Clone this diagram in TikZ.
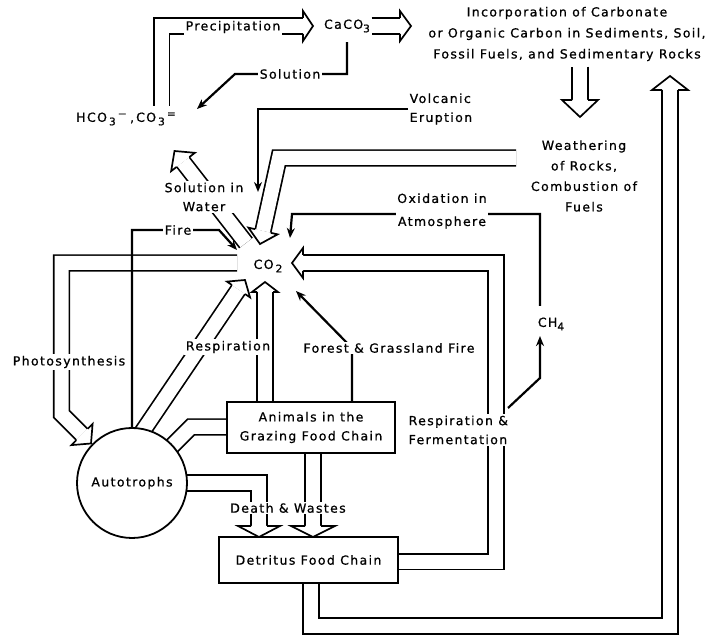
\documentclass[tikz,border=0pt]{standalone}
\usepackage{fontspec}
\setmainfont{DejaVu Sans}[LetterSpace=11, FakeBold=0.8]
\usetikzlibrary{arrows.meta,calc,backgrounds}
\newcommand{\labfont}{\fontsize{12.5}{19}\selectfont}
\newcommand{\lowidx}[1]{\raisebox{-3.5pt}{\fontsize{10.5}{10}\selectfont #1}}
\newcommand{\hiidx}[1]{\raisebox{4.5pt}{\fontsize{10.5}{10}\selectfont #1}}
\newcommand{\fathead}[3][15]{%
  \fill[white] ($(#2)!#1pt!90:(#3)$) -- (#3) -- ($(#2)!#1pt!-90:(#3)$) -- cycle;
  \draw[headline] ($(#2)!8pt!90:(#3)$) -- ($(#2)!#1pt!90:(#3)$) -- (#3)
    -- ($(#2)!#1pt!-90:(#3)$) -- ($(#2)!8pt!-90:(#3)$);}
\tikzset{
  lab/.style={font=\labfont, inner sep=1.5pt},
  cover/.style={lab, fill=white},
  box/.style={draw, line width=1.8pt, fill=white, font=\labfont, align=center, inner sep=0pt},
  pipe/.style={draw, line width=1.7pt, double=white, double distance=14pt, line join=miter},
  headline/.style={line width=1.7pt, line join=miter},
  wire/.style={line width=2.2pt, ->}
}

\begin{document}
\begin{tikzpicture}[x=1pt, y=-1pt, >={Stealth[length=10pt,width=8pt]}]
  \useasboundingbox (0,0) rectangle (713,636);

  \node[lab] (hco) at (126,119) {HCO\,\lowidx{3}\,\hiidx{−}\;,\,CO\,\lowidx{3}\,\hiidx{=}};
  \node[cover] (prec) at (233,27) {Precipitation};
  \node[lab] (caco) at (347,26) {CaCO\lowidx{3}};
  \node[lab, align=center] (incorp) at (567,34) {Incorporation of Carbonate\\[2pt]or Organic Carbon in Sediments, Soil,\\[2pt]Fossil Fuels, and Sedimentary Rocks};
  \node[cover] (sol) at (290,74) {Solution};
  \node[lab, align=left, anchor=west] (volc) at (408,109) {Volcanic\\Eruption};
  \node[lab, align=center] (weath) at (584,176) {Weathering\\[1.5pt]of Rocks,\\[1.5pt]Combustion of\\[1.5pt]Fuels};
  \node[cover, align=center] (solw) at (204,197) {Solution in\\Water};
  \node[cover, align=center] (oxid) at (442,211) {Oxidation in\\[4pt]Atmosphere};
  \node[cover] (fire) at (178,230) {Fire};
  \node[lab] (co2) at (268,266) {CO\,\lowidx{2}};
  \node[lab] (ch4) at (551,324) {CH\lowidx{4}};
  \node[cover] (resp) at (228,347) {Respiration};
  \node[cover] (ffire) at (389,348) {Forest \& Grassland Fire};
  \node[cover] (photo) at (69,362) {Photosynthesis};
  \node[cover, align=left, anchor=west] (rf) at (407,430) {Respiration \&\\Fermentation};
  \node[box, minimum width=168pt, minimum height=51pt] (anim) at (311,427.5) {Animals in the\\Grazing Food Chain};
  \node[box, circle, minimum size=110pt] (auto) at (132,483) {Autotrophs};
  \node[cover] (dw) at (288,508) {Death \& Wastes};
  \node[box, minimum width=179pt, minimum height=46pt] (detr) at (308.5,560) {Detritus Food Chain};

  \coordinate (precbend) at (161.5,26);
  \coordinate (precb) at (303,26);   \coordinate (prect) at (313,26);
  \coordinate (incb) at (400,26);    \coordinate (inct) at (411,26);
  \coordinate (weab) at (580,100);   \coordinate (weat) at (580,117);
  \coordinate (bigc1) at (311,626);  \coordinate (bigc2) at (670,626);
  \coordinate (bigb) at (670,90);    \coordinate (bigt) at (670,76);
  \coordinate (weas) at (516,158);   \coordinate (weac) at (279,158);
  \coordinate (weab2) at (263,231);  \coordinate (weat2) at (260,244);
  \coordinate (solws) at (246,243);  \coordinate (solwb) at (183,162);
  \coordinate (solwt) at (174.5,151);
  \coordinate (photos) at (237,263); \coordinate (photoc1) at (61.5,263);
  \coordinate (photoc2) at (61.5,414);
  \coordinate (photob) at (82,434.5); \coordinate (photot) at (91,443.5);
  \coordinate (autrs) at (130,450);  \coordinate (autrb) at (238.5,289.5);
  \coordinate (autrt) at (245,280);
  \coordinate (anrb) at (265,292);   \coordinate (anrt) at (265,282);
  \coordinate (rfc1) at (496,561.5); \coordinate (rfc2) at (496,263);
  \coordinate (rfb) at (303,263);    \coordinate (rft) at (292,263);
  \coordinate (aac) at (191,427);    \coordinate (aae) at (160,458);
  \coordinate (dwc) at (259,483);
  \coordinate (dwb) at (259,526);    \coordinate (dwt) at (259,537);
  \coordinate (dwb2) at (313,526);   \coordinate (dwt2) at (313,537);
  \coordinate (solc1) at (347,74);   \coordinate (solc2) at (235,74);
  \coordinate (solt) at (197,109);
  \coordinate (volct) at (258,192);
  \coordinate (firec) at (219,230);  \coordinate (firet) at (237,250);
  \coordinate (oxc1) at (540,214);   \coordinate (oxc2) at (292,214);
  \coordinate (oxt) at (290,238);
  \coordinate (ffc) at (352,348);    \coordinate (fft) at (296,291);
  \coordinate (chs) at (508,408);    \coordinate (chc) at (540,378);

  \begin{scope}[on background layer]
    \draw[pipe] ([yshift=5pt]hco.north -| precbend) -- (precbend) -- (precb);
    \fathead{precb}{prect}
    \draw[pipe] (caco.east) -- (incb);
    \fathead{incb}{inct}
    \draw[pipe] ([yshift=-4pt]incorp.south -| weab) -- (weab);
    \fathead[18]{weab}{weat}
    \draw[pipe] (detr.south -| bigc1) -- (bigc1) -- (bigc2) -- (bigb);
    \fathead[18]{bigb}{bigt}
    \draw[pipe] (weas) -- (weac) -- (weab2);
    \fathead{weab2}{weat2}
    \draw[pipe] (solws) -- (solwb);
    \fathead{solwb}{solwt}
    \draw[pipe] (photos) -- (photoc1) -- (photoc2) -- (photob);
    \fathead{photob}{photot}
    \draw[pipe] (autrs) -- (autrb);
    \fathead[14]{autrb}{autrt}
    \draw[pipe] (anim.north -| anrb) -- (anrb);
    \fathead[13]{anrb}{anrt}
    \draw[pipe] (detr.east |- rfc1) -- (rfc1) -- (rfc2) -- (rfb);
    \fathead{rfb}{rft}
    \draw[pipe] (anim.west |- aac) -- (aac) -- (aae);
    \draw[pipe] (auto.center) -- (dwc) -- (dwb);
    \fathead[21]{dwb}{dwt}
    \draw[pipe] (anim.south -| dwb2) -- (dwb2);
    \fathead[22]{dwb2}{dwt2}

    \draw[wire] ([yshift=-8pt]caco.south -| solc1) -- (solc1) -- (solc2) -- (solt);
    \draw[wire] (volc.west) -| (volct);
    \draw[wire] (auto.north) |- (firec) -- (firet);
    \draw[wire] ([yshift=10pt]ch4.north -| oxc1) -- (oxc1) -- (oxc2) -- (oxt);
    \draw[wire] (anim.north -| ffc) -- (ffc) -- (fft);
    \draw[wire] (chs) -- (chc) -- ([yshift=-4pt]ch4.south -| chc);
  \end{scope}
\end{tikzpicture}
\end{document}
